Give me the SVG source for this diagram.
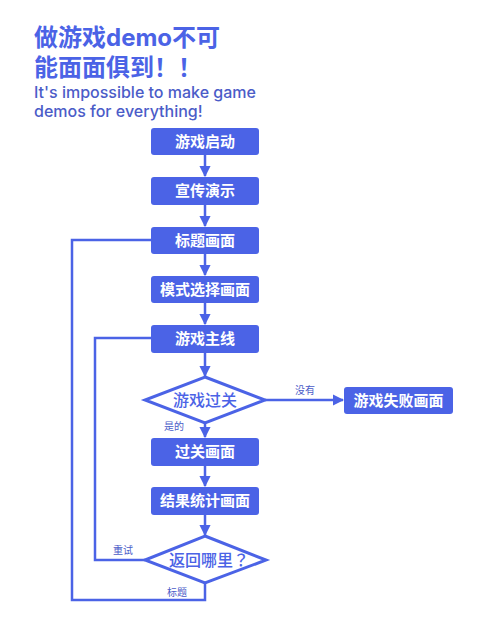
<svg xmlns="http://www.w3.org/2000/svg" width="500" height="625" viewBox="0 0 500 625">
<style>
.box{fill:#4b63e6;}
.bt{fill:#fff;font-family:"Noto Sans CJK SC","Noto Sans",sans-serif;font-size:15px;font-weight:bold;text-anchor:middle;}
.dm{fill:#fff;stroke:#4b63e6;stroke-width:3;stroke-linejoin:miter;}
.dt{fill:#4b63e6;font-family:"Noto Sans CJK SC","Noto Sans",sans-serif;font-size:16px;font-weight:500;text-anchor:middle;}
.ln{fill:none;stroke:#4b63e6;stroke-width:2.5;}
.lb{fill:#4b5cc8;font-family:"Noto Sans CJK SC","Noto Sans",sans-serif;font-size:10px;text-anchor:middle;}
.ti{fill:#4b63e6;font-family:"Inter","Noto Sans CJK SC",sans-serif;font-size:24px;font-weight:bold;}
.st{fill:#4b5cc8;font-family:"Inter","Noto Sans",sans-serif;font-size:16px;font-weight:500;}
</style>
<defs>
<marker id="ah" viewBox="0 0 10 10" refX="9" refY="5" markerWidth="4.5" markerHeight="4.5" orient="auto" markerUnits="strokeWidth">
<path d="M0,0 L10,5 L0,10 z" fill="#4b63e6"/>
</marker>
</defs>
<rect width="500" height="625" fill="#fff"/>
<g id="title">
<text class="ti" x="34" y="46">做游戏demo不可</text>
<text class="ti" x="34" y="76">能面面俱到！！</text>
<text class="st" x="34" y="98">It's impossible to make game</text>
<text class="st" x="34" y="117">demos for everything!</text>
</g>
<g id="connectors">
<line class="ln" x1="205" y1="155" x2="205" y2="176" marker-end="url(#ah)"/>
<line class="ln" x1="205" y1="205" x2="205" y2="226" marker-end="url(#ah)"/>
<line class="ln" x1="205" y1="254" x2="205" y2="275" marker-end="url(#ah)"/>
<line class="ln" x1="205" y1="303" x2="205" y2="324" marker-end="url(#ah)"/>
<line class="ln" x1="205" y1="353" x2="205" y2="376" marker-end="url(#ah)"/>
<line class="ln" x1="265" y1="400" x2="343" y2="400" marker-end="url(#ah)"/>
<line class="ln" x1="205" y1="423" x2="205" y2="437" marker-end="url(#ah)"/>
<line class="ln" x1="205" y1="466" x2="205" y2="486" marker-end="url(#ah)"/>
<line class="ln" x1="205" y1="515" x2="205" y2="535" marker-end="url(#ah)"/>
<polyline class="ln" points="145,560 95,560 95,338 151,338"/>
<polyline class="ln" points="205,583 205,600 72,600 72,240 151,240"/>
<text class="lb" x="305" y="394">没有</text>
<text class="lb" x="174" y="430">是的</text>
<text class="lb" x="123" y="554">重试</text>
<text class="lb" x="177" y="596">标题</text>
</g>
<g id="n1"><rect class="box" x="151" y="128" width="108" height="27" rx="3"/><text class="bt" x="205" y="147">游戏启动</text></g>
<g id="n2"><rect class="box" x="151" y="177" width="108" height="28" rx="3"/><text class="bt" x="205" y="196">宣传演示</text></g>
<g id="n3"><rect class="box" x="151" y="227" width="108" height="27" rx="3"/><text class="bt" x="205" y="246">标题画面</text></g>
<g id="n4"><rect class="box" x="151" y="276" width="108" height="27" rx="3"/><text class="bt" x="205" y="295">模式选择画面</text></g>
<g id="n5"><rect class="box" x="151" y="325" width="108" height="28" rx="3"/><text class="bt" x="205" y="344">游戏主线</text></g>
<g id="d1"><polygon class="dm" points="205,377 265,400 205,423 145,400"/><text class="dt" x="205" y="406">游戏过关</text></g>
<g id="n6"><rect class="box" x="344" y="387" width="109" height="27" rx="3"/><text class="bt" x="398.5" y="406">游戏失败画面</text></g>
<g id="n7"><rect class="box" x="151" y="438" width="108" height="28" rx="3"/><text class="bt" x="205" y="457">过关画面</text></g>
<g id="n8"><rect class="box" x="151" y="487" width="108" height="28" rx="3"/><text class="bt" x="205" y="506">结果统计画面</text></g>
<g id="d2"><polygon class="dm" points="205,536 266,560 205,583 145,560"/><text class="dt" x="209" y="566" style="font-family:'Noto Sans CJK JP',sans-serif">返回哪里？</text></g>
</svg>
